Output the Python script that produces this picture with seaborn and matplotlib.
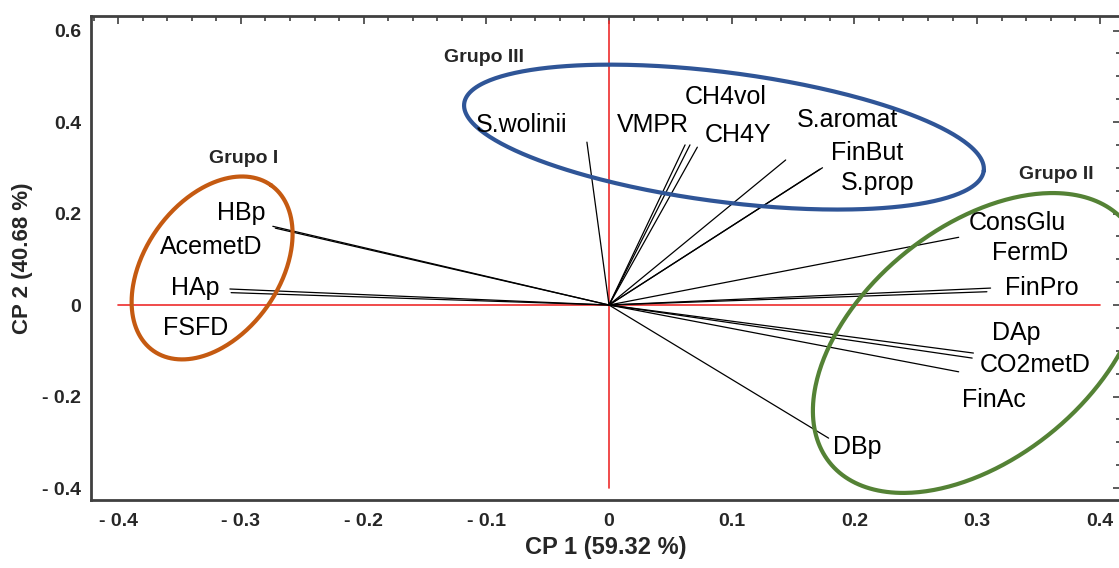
import numpy as np
import pandas as pd
import matplotlib
matplotlib.use("Agg")
import matplotlib.pyplot as plt
from matplotlib.ticker import MultipleLocator, FuncFormatter
import seaborn as sns

# --- Data (loadings) ---
variables = ["HBp", "AcemetD", "HAp", "FSFD", "S.wolinii", "VMPR", "CH4vol", "CH4Y",
             "S.aromat", "FinBut", "S.prop", "ConsGlu", "FermD", "FinPro", "DAp",
             "CO2metD", "FinAc", "DBp"]
cp1 = [-0.274, -0.272, -0.309, -0.308, -0.018, 0.062, 0.066, 0.072,
       0.144, 0.174, 0.172, 0.285, 0.311, 0.308, 0.297,
       0.296, 0.285, 0.179]
cp2 = [0.172, 0.168, 0.035, 0.027, 0.356, 0.350, 0.350, 0.345,
       0.317, 0.300, 0.297, 0.148, 0.037, 0.029, -0.105,
       -0.116, -0.146, -0.291]

# label placement (data coords)
label_x = [-0.300, -0.324, -0.337, -0.337, -0.071, 0.036, 0.095, 0.105,
           0.194, 0.210, 0.219, 0.333, 0.343, 0.353, 0.332,
           0.347, 0.314, 0.202]
label_y = [0.201, 0.127, 0.037, -0.050, 0.393, 0.393, 0.455, 0.372,
           0.404, 0.332, 0.267, 0.180, 0.114, 0.037, -0.061,
           -0.131, -0.208, -0.310]

# groups (ellipse centre, semi-axes in x units, angle on screen)
groups = ["Grupo I", "Grupo II", "Grupo III"]
group_colors = ["#C55A11", "#548235", "#2F5597"]
group_cx = [-0.3235, 0.3007, 0.0937]
group_cy = [0.081, -0.083, 0.367]
group_a = [0.0828, 0.1553, 0.2135]
group_b = [0.0548, 0.0944, 0.0527]
group_ang = [54.5, 39.0, -7.4]
group_lx = [-0.2975, 0.3649, -0.1019]
group_ly = [0.321, 0.286, 0.540]

xlim = (-0.4222, 0.4173)
ylim = (-0.4262, 0.6317)

# --- Plot ---
sns.set_theme(style="white")
plt.rcParams["font.family"] = ["Liberation Sans", "DejaVu Sans"]

W, H = 1119, 568
fig = plt.figure(figsize=(W / 100, H / 100), dpi=100)
ax_rect = [91 / W, 1 - 500 / H, (1121 - 91) / W, (500 - 16) / H]
ax = fig.add_axes(ax_rect)
ax.set_xlim(*xlim)
ax.set_ylim(*ylim)

# red reference axes
ax.plot([-0.4, 0.4], [0, 0], color="#EE2C2C", lw=1.2, zorder=1)
ax.plot([0, 0], [-0.4, 0.62], color="#EE2C2C", lw=1.2, zorder=1)

# loading vectors from the origin
rows = []
for v, x, y in zip(variables, cp1, cp2):
    rows.append({"var": v, "step": 0, "CP1": 0.0, "CP2": 0.0})
    rows.append({"var": v, "step": 1, "CP1": x, "CP2": y})
vec = pd.DataFrame(rows)
sns.lineplot(data=vec, x="CP1", y="CP2", units="var", estimator=None, sort=False,
             color="black", lw=0.9, ax=ax, zorder=2)

for v, lx, ly in zip(variables, label_x, label_y):
    ax.text(lx, ly, v, ha="center", va="center", fontsize=18, color="black", zorder=4)

# group ellipses drawn so they keep their on-screen shape
ax_w_px = ax_rect[2] * W
ax_h_px = ax_rect[3] * H
k = (ax_w_px / (xlim[1] - xlim[0])) / (ax_h_px / (ylim[1] - ylim[0]))
t = np.linspace(0, 2 * np.pi, 400)
for g, c, cx, cy, a, b, ang, lx, ly in zip(groups, group_colors, group_cx, group_cy,
                                           group_a, group_b, group_ang, group_lx, group_ly):
    th = np.deg2rad(ang)
    ex = cx + a * np.cos(t) * np.cos(th) - b * np.sin(t) * np.sin(th)
    ey = cy + (a * np.cos(t) * np.sin(th) + b * np.sin(t) * np.cos(th)) * k
    ax.plot(ex, ey, color=c, lw=3.0, zorder=3, clip_on=False)
    ax.text(lx, ly, g, ha="center", va="center", fontsize=14, fontweight="bold", zorder=4)

# axes styling
def fmt(v, pos):
    if abs(v) < 1e-9:
        return "0"
    return "- %.1f" % -v if v < 0 else "%.1f" % v

ax.xaxis.set_major_locator(MultipleLocator(0.1))
ax.xaxis.set_minor_locator(MultipleLocator(0.02))
ax.yaxis.set_major_locator(MultipleLocator(0.2))
ax.yaxis.set_minor_locator(MultipleLocator(0.05))
ax.xaxis.set_major_formatter(FuncFormatter(fmt))
ax.yaxis.set_major_formatter(FuncFormatter(fmt))
ax.tick_params(which="both", direction="in", top=True, right=True, color="#404040", width=1.2)
ax.tick_params(which="major", length=6)
ax.tick_params(which="minor", length=3.5)
ax.tick_params(axis="y", pad=7, labelsize=14)
ax.tick_params(axis="x", pad=9, labelsize=14)
for lab in ax.get_yticklabels() + ax.get_xticklabels():
    lab.set_fontweight("bold")
for s in ax.spines.values():
    s.set_color("#404040")
    s.set_linewidth(2)

ax.set_xlabel("CP 1 (59.32 %)", fontsize=17, fontweight="bold", labelpad=5)
ax.set_ylabel("CP 2 (40.68 %)", fontsize=16, fontweight="bold", labelpad=7)

fig.savefig("out.png", dpi=100)
plt.close(fig)
